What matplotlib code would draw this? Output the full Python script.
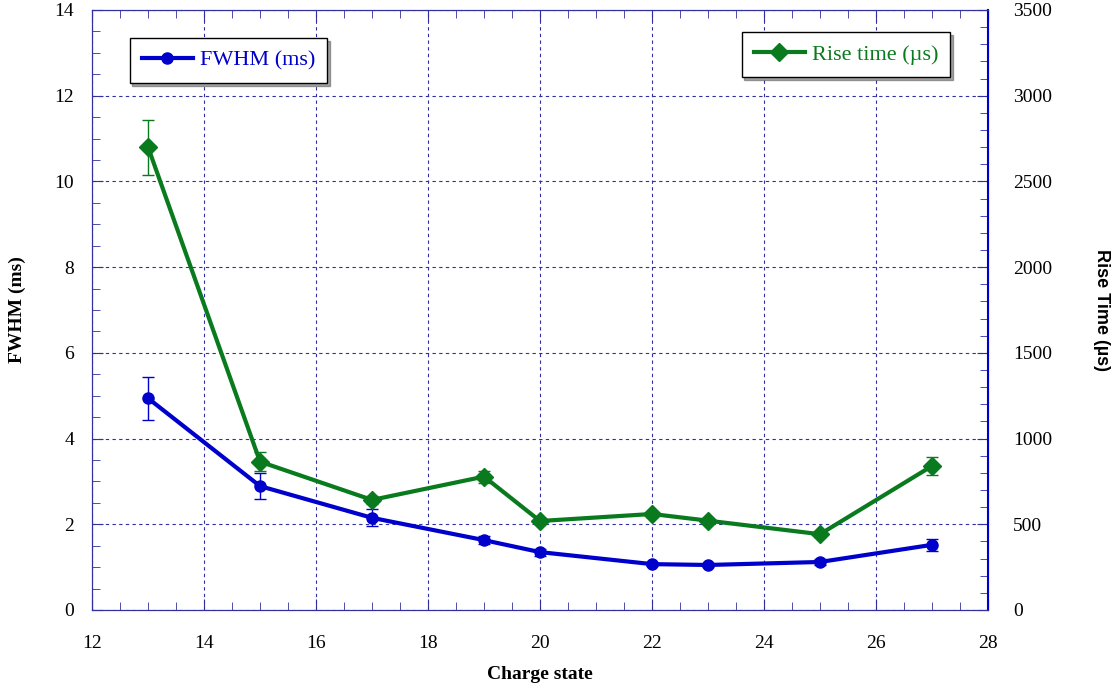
import numpy as np
import matplotlib
matplotlib.use("Agg")
import matplotlib.pyplot as plt
from matplotlib.ticker import MultipleLocator
from matplotlib.lines import Line2D

charge = [13, 15, 17, 19, 20, 22, 23, 25, 27]
fwhm = [4.94, 2.89, 2.15, 1.63, 1.35, 1.07, 1.05, 1.12, 1.52]
fwhm_err = [0.5, 0.3, 0.2, 0.1, 0.08, 0.05, 0.05, 0.08, 0.14]
rise = [2700, 865, 642, 778, 519, 560, 521, 442, 840]
rise_err = [160, 55, 25, 35, 20, 20, 15, 15, 50]

blue = '#0000cc'
green = '#0a7a1e'
navy = '#3030a0'

plt.rcParams['font.family'] = ['Liberation Serif', 'DejaVu Serif']

fig = plt.figure(figsize=(11.17, 6.88), dpi=100)
ax = fig.add_axes([0.0824, 0.1134, 0.8021, 0.8721])
ax2 = ax.twinx()

ax.errorbar(charge, fwhm, yerr=fwhm_err, color=blue, lw=3, marker='o', ms=8,
            capsize=4, elinewidth=1, capthick=1, zorder=3)
ax2.errorbar(charge, rise, yerr=rise_err, color=green, lw=3, marker='D', ms=9,
             capsize=4, elinewidth=1, capthick=1, zorder=3)

ax.set_xlim(12, 28)
ax.set_ylim(0, 14)
ax2.set_ylim(0, 3500)
ax.xaxis.set_major_locator(MultipleLocator(2))
ax.xaxis.set_minor_locator(MultipleLocator(0.5))
ax.yaxis.set_major_locator(MultipleLocator(2))
ax.yaxis.set_minor_locator(MultipleLocator(0.5))
ax2.yaxis.set_major_locator(MultipleLocator(500))
ax2.yaxis.set_minor_locator(MultipleLocator(100))

ax.grid(True, which='major', color=navy, ls=(0, (3, 3)), lw=0.8)
for a in (ax, ax2):
    for s in a.spines.values():
        s.set_color(navy)
    a.tick_params(which='both', direction='in', color=navy, labelsize=14)
    a.tick_params(which='major', length=8)
    a.tick_params(which='minor', length=6)
ax.tick_params(axis='y', pad=13)
ax2.tick_params(axis='y', pad=18)
ax.tick_params(axis='x', top=True, which='both', pad=18)
ax2.spines['right'].set_color(blue)
ax2.spines['right'].set_linewidth(1.5)

ax.set_xlabel('Charge state', fontsize=14, fontweight='bold', labelpad=10)
ax.set_ylabel('FWHM (ms)', fontsize=14, fontweight='bold', labelpad=20)
ax2.set_ylabel('Rise Time (µs)', fontsize=13, fontweight='bold', rotation=270,
               labelpad=42, family=['Liberation Sans', 'DejaVu Sans'])

h1 = Line2D([], [], color=blue, lw=3, marker='o', ms=8)
h2 = Line2D([], [], color=green, lw=3, marker='D', ms=9)
leg1 = ax.legend([h1], ['FWHM (ms)'], loc='upper left', bbox_to_anchor=(0.042, 0.953),
                 borderaxespad=0, fontsize=16, fancybox=False, shadow=True,
                 edgecolor='black', framealpha=1, handlelength=2.3,
                 handletextpad=0.3, borderpad=0.55)
for t in leg1.get_texts():
    t.set_color(blue)
leg2 = ax2.legend([h2], ['Rise time (µs)'], loc='upper right', bbox_to_anchor=(0.958, 0.963),
                  borderaxespad=0, fontsize=16, fancybox=False, shadow=True,
                  edgecolor='black', framealpha=1, handlelength=2.3,
                  handletextpad=0.3, borderpad=0.55)
for t in leg2.get_texts():
    t.set_color(green)

fig.savefig('out.png', dpi=100)
